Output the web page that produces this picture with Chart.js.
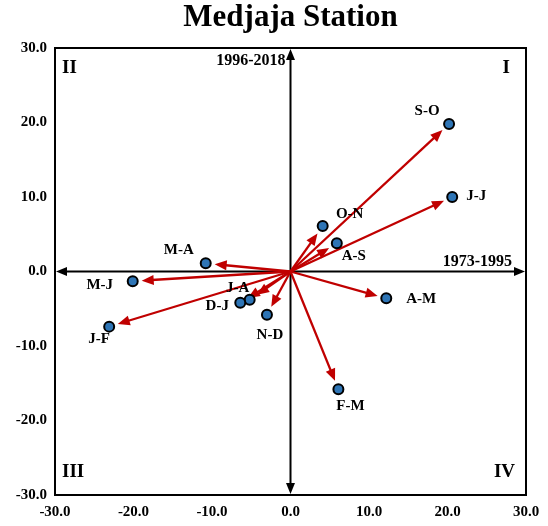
<!DOCTYPE html>
<html>
<head>
<meta charset="utf-8">
<script src="https://cdn.jsdelivr.net/npm/chart.js@4/dist/chart.umd.min.js"></script>
<style>
  html, body { margin: 0; padding: 0; background: #fff; }
  #wrap { width: 548px; height: 526px; }
</style>
</head>
<body>
<div id="wrap"><canvas id="c" width="548" height="526"></canvas></div>
<script>
// Two-period bimonthly comparison: x = 1973-1995, y = 1996-2018
const chartTitle = 'Medjaja Station';
const periods = ['S-O', 'J-J', 'O-N', 'A-S', 'M-A', 'M-J', 'J-F', 'J-A', 'D-J', 'N-D', 'A-M', 'F-M'];
const valuesX = [20.2, 20.6, 4.1, 5.9, -10.8, -20.1, -23.1, -5.2, -6.4, -3.0, 12.2, 6.1];
const valuesY = [19.8, 10.0, 6.1, 3.8, 1.1, -1.3, -7.4, -3.8, -4.2, -5.8, -3.6, -15.8];
const tickValues = [-30, -20, -10, 0, 10, 20, 30];
const axisNameX = '1973-1995';
const axisNameY = '1996-2018';
const quadrantNames = ['I', 'II', 'III', 'IV'];

// label offsets in pixels relative to each marker (styling only)
const labelOffsets = [
  [-22, -13], [24, -1], [27, -12], [17, 13], [-27, -13], [-33, 4],
  [-10, 12], [-12, -12], [-23, 3], [3, 20], [35, 1], [12, 17]
];

const SERIF = '"Liberation Serif", "Times New Roman", serif';
const RED = '#C00000';

function arrowHead(ctx, x1, y1, x2, y2, len, half, color) {
  const a = Math.atan2(y2 - y1, x2 - x1);
  ctx.save();
  ctx.fillStyle = color;
  ctx.beginPath();
  ctx.moveTo(x2, y2);
  ctx.lineTo(x2 - len * Math.cos(a) + half * Math.sin(a), y2 - len * Math.sin(a) - half * Math.cos(a));
  ctx.lineTo(x2 - len * Math.cos(a) - half * Math.sin(a), y2 - len * Math.sin(a) + half * Math.cos(a));
  ctx.closePath();
  ctx.fill();
  ctx.restore();
}

// title, frame, zero axes with arrows, quadrant names and axis names
const framePlugin = {
  id: 'frame',
  beforeDatasetsDraw(chart) {
    const { ctx, chartArea: ca, scales } = chart;
    const x0 = scales.x.getPixelForValue(0);
    const y0 = scales.y.getPixelForValue(0);
    ctx.save();

    ctx.fillStyle = '#000';
    ctx.font = 'bold 31px ' + SERIF;
    ctx.textAlign = 'center';
    ctx.textBaseline = 'middle';
    ctx.fillText(chartTitle, (ca.left + ca.right) / 2, 18);

    ctx.strokeStyle = '#000';
    ctx.lineWidth = 2;
    ctx.strokeRect(ca.left, ca.top, ca.right - ca.left, ca.bottom - ca.top);

    // horizontal zero axis
    ctx.beginPath();
    ctx.moveTo(ca.left + 8, y0);
    ctx.lineTo(ca.right - 8, y0);
    ctx.stroke();
    arrowHead(ctx, x0, y0, ca.left + 1, y0, 11, 4.5, '#000');
    arrowHead(ctx, x0, y0, ca.right - 1, y0, 11, 4.5, '#000');
    // vertical zero axis
    ctx.beginPath();
    ctx.moveTo(x0, ca.top + 8);
    ctx.lineTo(x0, ca.bottom - 8);
    ctx.stroke();
    arrowHead(ctx, x0, y0, x0, ca.top + 1, 11, 4.5, '#000');
    arrowHead(ctx, x0, y0, x0, ca.bottom - 1, 11, 4.5, '#000');

    ctx.font = 'bold 16px ' + SERIF;
    ctx.textAlign = 'right';
    ctx.fillText(axisNameY, x0 - 5, ca.top + 13);
    ctx.fillText(axisNameX, ca.right - 14, y0 - 10);

    ctx.font = 'bold 19px ' + SERIF;
    ctx.textAlign = 'right';
    ctx.fillText(quadrantNames[0], ca.right - 16, ca.top + 20);
    ctx.fillText(quadrantNames[3], ca.right - 11, ca.bottom - 23);
    ctx.textAlign = 'left';
    ctx.fillText(quadrantNames[1], ca.left + 7, ca.top + 20);
    ctx.fillText(quadrantNames[2], ca.left + 7, ca.bottom - 23);

    // vectors from the origin to each period
    ctx.strokeStyle = RED;
    ctx.lineWidth = 2.3;
    valuesX.forEach((vx, i) => {
      const px = scales.x.getPixelForValue(vx);
      const py = scales.y.getPixelForValue(valuesY[i]);
      const d = Math.hypot(px - x0, py - y0);
      const f = (d - 9) / d;
      const ex = x0 + (px - x0) * f;
      const ey = y0 + (py - y0) * f;
      const a = Math.atan2(ey - y0, ex - x0);
      ctx.beginPath();
      ctx.moveTo(x0, y0);
      ctx.lineTo(ex - 6 * Math.cos(a), ey - 6 * Math.sin(a));
      ctx.stroke();
      arrowHead(ctx, x0, y0, ex, ey, 12, 5, RED);
    });
    ctx.restore();
  },
  afterDatasetsDraw(chart) {
    const { ctx, scales } = chart;
    ctx.save();
    ctx.fillStyle = '#000';
    ctx.font = 'bold 15px ' + SERIF;
    ctx.textAlign = 'center';
    ctx.textBaseline = 'middle';
    periods.forEach((p, i) => {
      const px = scales.x.getPixelForValue(valuesX[i]);
      const py = scales.y.getPixelForValue(valuesY[i]);
      ctx.fillText(p, px + labelOffsets[i][0], py + labelOffsets[i][1]);
    });
    ctx.restore();
  }
};

new Chart(document.getElementById('c'), {
  type: 'scatter',
  data: {
    datasets: [{
      label: chartTitle,
      data: valuesX.map((x, i) => ({ x: x, y: valuesY[i] })),
      backgroundColor: '#2E75B6',
      borderColor: '#000',
      borderWidth: 2,
      pointRadius: 5,
      pointHoverRadius: 5
    }]
  },
  plugins: [framePlugin],
  options: {
    responsive: false,
    animation: false,
    events: [],
    layout: { padding: { left: 0, right: 22, top: 48, bottom: 0 } },
    plugins: {
      legend: { display: false },
      tooltip: { enabled: false },
      title: { display: false }
    },
    scales: {
      x: {
        type: 'linear',
        min: -30, max: 30,
        afterBuildTicks: (s) => { s.ticks = tickValues.map(v => ({ value: v })); },
        afterFit: (s) => { s.height = 31; },
        grid: { display: false, drawTicks: false },
        border: { display: false },
        ticks: {
          color: '#000',
          padding: 8,
          font: { family: SERIF, size: 15, weight: 'bold' },
          callback: (v) => v.toFixed(1)
        }
      },
      y: {
        type: 'linear',
        min: -30, max: 30,
        afterBuildTicks: (s) => { s.ticks = tickValues.map(v => ({ value: v })); },
        afterFit: (s) => { s.width = 55; },
        grid: { display: false, drawTicks: false },
        border: { display: false },
        ticks: {
          color: '#000',
          padding: 8,
          font: { family: SERIF, size: 15, weight: 'bold' },
          callback: (v) => v.toFixed(1)
        }
      }
    }
  }
});
</script>
</body>
</html>
